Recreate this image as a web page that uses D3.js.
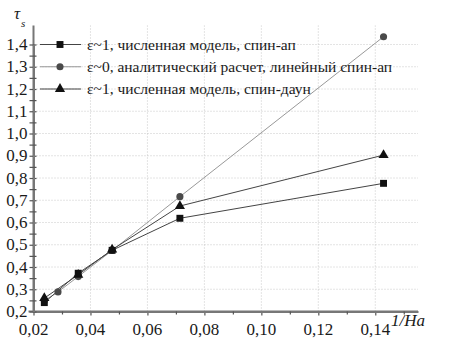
<!DOCTYPE html>
<html><head><meta charset="utf-8">
<script src="https://cdn.jsdelivr.net/npm/d3@7"></script>
</head><body style="margin:0">
<svg id="c" width="449" height="347"></svg>
<script>
const xTicks = [0.02,0.04,0.06,0.08,0.10,0.12,0.14];
const yTicks = [0.2,0.3,0.4,0.5,0.6,0.7,0.8,0.9,1.0,1.1,1.2,1.3,1.4];
const sqX = [0.0238,0.0357,0.0476,0.0714,0.1429];
const sqY = [0.240,0.372,0.475,0.619,0.776];
const ciX = [0.0238,0.0286,0.0357,0.0476,0.0714,0.1429];
const ciY = [0.248,0.288,0.357,0.474,0.716,1.435];
const trX = [0.0238,0.0357,0.0476,0.0714,0.1429];
const trY = [0.260,0.365,0.478,0.674,0.903];
const legendLabels = ["ε~1, численная модель, спин-ап","ε~0, аналитический расчет, линейный спин-ап","ε~1, численная модель, спин-даун"];

const FF = "Liberation Serif";
const svg = d3.select("#c");
const x = d3.scaleLinear().domain([0.02,0.155]).range([33.5,418]);
const y = d3.scaleLinear().domain([0.2,1.4]).range([311.5,44.5]);
const fx = d => d3.format(".2f")(d).replace(".",",");
const fy = d => d3.format(".1f")(d).replace(".",",");

function txt(parent, xx, yy, s, size, italic, anchor){
  return parent.append("text").attr("x",xx).attr("y",yy).attr("font-family",FF).attr("font-size",size)
    .attr("font-style",italic?"italic":"normal").attr("text-anchor",anchor||"start").attr("fill","#1a1a1a").text(s);
}

// grid
const g = svg.append("g");
xTicks.slice(1).forEach(t=>g.append("line").attr("x1",x(t)).attr("x2",x(t)).attr("y1",y(0.2)).attr("y2",y(1.485))
  .attr("stroke","#bbb").attr("stroke-width",0.8).attr("stroke-dasharray","1,2"));
yTicks.slice(1).forEach(t=>g.append("line").attr("x1",x(0.02)).attr("x2",x(0.155)).attr("y1",y(t)).attr("y2",y(t))
  .attr("stroke","#bbb").attr("stroke-width",0.8).attr("stroke-dasharray","1,2"));

// axes (lines/ticks from d3 axis, labels drawn as plain texts)
const xa = svg.append("g").attr("transform",`translate(0,${y(0.2)})`)
  .call(d3.axisBottom(x).tickValues(xTicks).tickFormat("").tickSize(4).tickSizeOuter(0));
xa.append("g").call(d3.axisBottom(x).tickValues([0.03,0.05,0.07,0.09,0.11,0.13,0.15]).tickFormat("").tickSize(3).tickSizeOuter(0));
const ya = svg.append("g").attr("transform",`translate(${x(0.02)},0)`)
  .call(d3.axisLeft(y).tickValues(yTicks).tickFormat("").tickSize(4).tickSizeOuter(0));
ya.append("g").call(d3.axisLeft(y).tickValues(d3.range(0.25,1.45,0.1)).tickFormat("").tickSize(-3).tickSizeOuter(0));
svg.selectAll(".domain").attr("stroke","#777").attr("stroke-width",2);
svg.selectAll(".tick line").attr("stroke","#555").attr("stroke-width",1.2);
ya.selectAll(".tick line").attr("x2",-4).attr("x1",3);
svg.selectAll(".tick text").remove();
ya.select(".domain").attr("d",`M0,${y(1.485)}V${y(0.2)+1}`);
xa.select(".domain").attr("d",`M${x(0.02)-5},0H${x(0.155)}`);

const labels = svg.append("g");
xTicks.forEach(t=>txt(labels, x(t), y(0.2)+23, fx(t), 17, false, "middle"));
yTicks.forEach(t=>txt(labels, x(0.02)-6, y(t)+5.5, fy(t), 17, false, "end"));

// titles
txt(svg, 14, 19, "τ", 17, true);
txt(svg, 21, 27, "s", 11, true);
txt(svg, 391, 326, "1/Ha", 17, true);

// series
const line = d3.line().x(d=>x(d[0])).y(d=>y(d[1]));
const series = [
  {xs:ciX, ys:ciY, stroke:"#999", fill:"#4a4a4a", sym:d3.symbolCircle, size:40},
  {xs:trX, ys:trY, stroke:"#444", fill:"#111", sym:d3.symbolTriangle, size:45},
  {xs:sqX, ys:sqY, stroke:"#444", fill:"#111", sym:d3.symbolSquare, size:48},
];
series.forEach(s=>{
  const pts = s.xs.map((v,i)=>[v,s.ys[i]]);
  svg.append("path").attr("d",line(pts)).attr("fill","none").attr("stroke",s.stroke).attr("stroke-width",1);
});
series.forEach(s=>{
  s.xs.forEach((v,i)=>svg.append("path").attr("d",d3.symbol(s.sym,s.size)()).attr("transform",`translate(${x(v)},${y(s.ys[i])})`).attr("fill",s.fill));
});

// legend
const leg = [
  {sym:d3.symbolSquare,size:48,fill:"#111",stroke:"#444"},
  {sym:d3.symbolCircle,size:40,fill:"#4a4a4a",stroke:"#999"},
  {sym:d3.symbolTriangle,size:45,fill:"#111",stroke:"#444"},
];
leg.forEach((l,i)=>{
  const yy = y(1.4 - i*0.1);
  svg.append("line").attr("x1",40).attr("x2",81).attr("y1",yy).attr("y2",yy).attr("stroke",l.stroke).attr("stroke-width",1);
  svg.append("path").attr("d",d3.symbol(l.sym,l.size)()).attr("transform",`translate(60,${yy})`).attr("fill",l.fill);
  txt(svg, 87, yy+5, legendLabels[i], 15.5, false);
});
</script>
</body></html>
